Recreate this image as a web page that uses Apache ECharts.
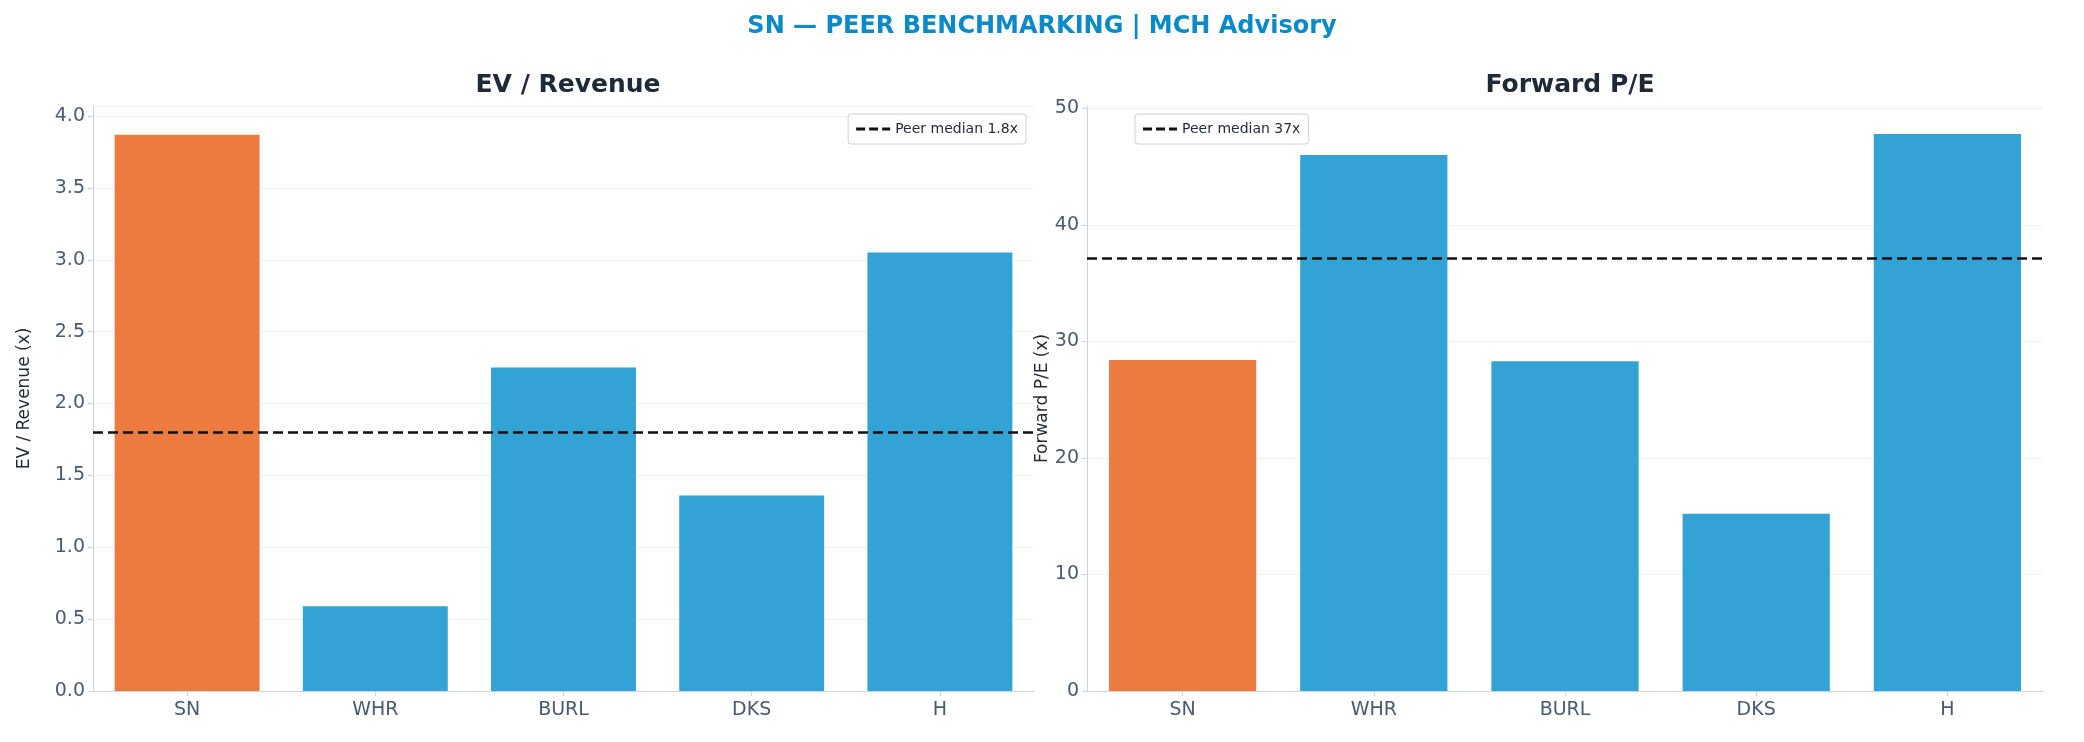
<!DOCTYPE html>
<html><head><meta charset="utf-8">
<script src="https://cdn.jsdelivr.net/npm/echarts@6/dist/echarts.min.js"></script>
<style>html,body{margin:0;padding:0;background:#fff}#c{width:2084px;height:742px}</style>
</head><body><div id="c"></div>
<script>
const categories = ['SN','WHR','BURL','DKS','H'];
const evRevenue = [3.87, 0.59, 2.25, 1.36, 3.05];
const fwdPE = [28.4, 46.0, 28.3, 15.2, 47.8];
const medianEV = 1.8;
const medianPE = 37.1;
const legendEV = 'Peer median 1.8x';
const legendPE = 'Peer median 37x';

const ORANGE = '#EC7B3F', BLUE = '#33A2D4';
const colorOf = (i) => i === 0 ? ORANGE : BLUE;
const font = 'DejaVu Sans';
const chart = echarts.init(document.getElementById('c'));

function yAxis(idx, max, interval, name, fmt) {
  return {
    gridIndex: idx, type: 'value', min: 0, max: max, interval: interval,
    name: name, nameLocation: 'middle', nameGap: idx === 0 ? 60 : 26,
    nameTextStyle: {color: '#1f2937', fontSize: 17, fontFamily: font},
    axisLine: {show: true, lineStyle: {color: '#cdd6e0'}},
    axisTick: {show: true, lineStyle: {color: '#cdd6e0'}},
    axisLabel: {color: '#4a5a70', fontSize: 19, fontFamily: font, showMaxLabel: false,
      formatter: fmt},
    splitLine: {show: true, lineStyle: {color: '#eef1f5'}}
  };
}
function xAxis(idx) {
  return {
    gridIndex: idx, type: 'category', data: categories,
    axisLine: {show: true, lineStyle: {color: '#cdd6e0'}},
    axisTick: {show: true, alignWithLabel: true, lineStyle: {color: '#cdd6e0'}},
    axisLabel: {color: '#4a5a70', fontSize: 19, fontFamily: font, margin: 10}
  };
}
function barSeries(idx, vals, median) {
  return {
    type: 'bar', xAxisIndex: idx, yAxisIndex: idx, barCategoryGap: '23%',
    data: vals.map((v, i) => ({value: v, itemStyle: {color: colorOf(i)}})),
    markLine: {symbol: 'none', silent: true, label: {show: false},
      lineStyle: {color: '#111', type: [10, 5], width: 2.5}, data: [{yAxis: median}]},
    z: 2
  };
}
function legendSeries(idx, name) {
  return {type: 'line', name: name, xAxisIndex: idx, yAxisIndex: idx, data: [],
    symbol: 'none', lineStyle: {color: '#111', width: 2.5}, itemStyle: {color: '#111'}};
}
const legendCommon = {
  orient: 'vertical', itemWidth: 34, itemHeight: 3,
  icon: 'path://M0,0h9v3h-9z M13,0h9v3h-9z M26,0h8v3h-8z',
  textStyle: {fontSize: 14, color: '#1f2937', fontFamily: font},
  borderColor: '#d0d0d0', borderWidth: 1, borderRadius: 3, padding: [8, 8], backgroundColor: '#fff'
};

chart.setOption({
  animation: false,
  title: [
    {text: 'SN — PEER BENCHMARKING | MCH Advisory', left: 'center', top: 10,
      textStyle: {color: '#0a8ac8', fontSize: 24, fontWeight: 'bold', fontFamily: font}},
    {text: 'EV / Revenue', left: 563, textAlign: 'center', top: 68,
      textStyle: {color: '#1f2937', fontSize: 25, fontWeight: 'bold', fontFamily: font}},
    {text: 'Forward P/E', left: 1565, textAlign: 'center', top: 68,
      textStyle: {color: '#1f2937', fontSize: 25, fontWeight: 'bold', fontFamily: font}}
  ],
  grid: [
    {left: 93, width: 941, top: 106, height: 585},
    {left: 1087, width: 956, top: 106, height: 585}
  ],
  legend: [
    {...legendCommon, data: [legendEV], right: 2084 - 1026, top: 114},
    {...legendCommon, data: [legendPE], left: 1135, top: 114}
  ],
  xAxis: [xAxis(0), xAxis(1)],
  yAxis: [
    yAxis(0, 4.07, 0.5, 'EV / Revenue (x)', v => v.toFixed(1)),
    yAxis(1, 50.2, 10, 'Forward P/E (x)', v => String(v))
  ],
  series: [
    barSeries(0, evRevenue, medianEV), barSeries(1, fwdPE, medianPE),
    legendSeries(0, legendEV), legendSeries(1, legendPE)
  ]
});
</script></body></html>
